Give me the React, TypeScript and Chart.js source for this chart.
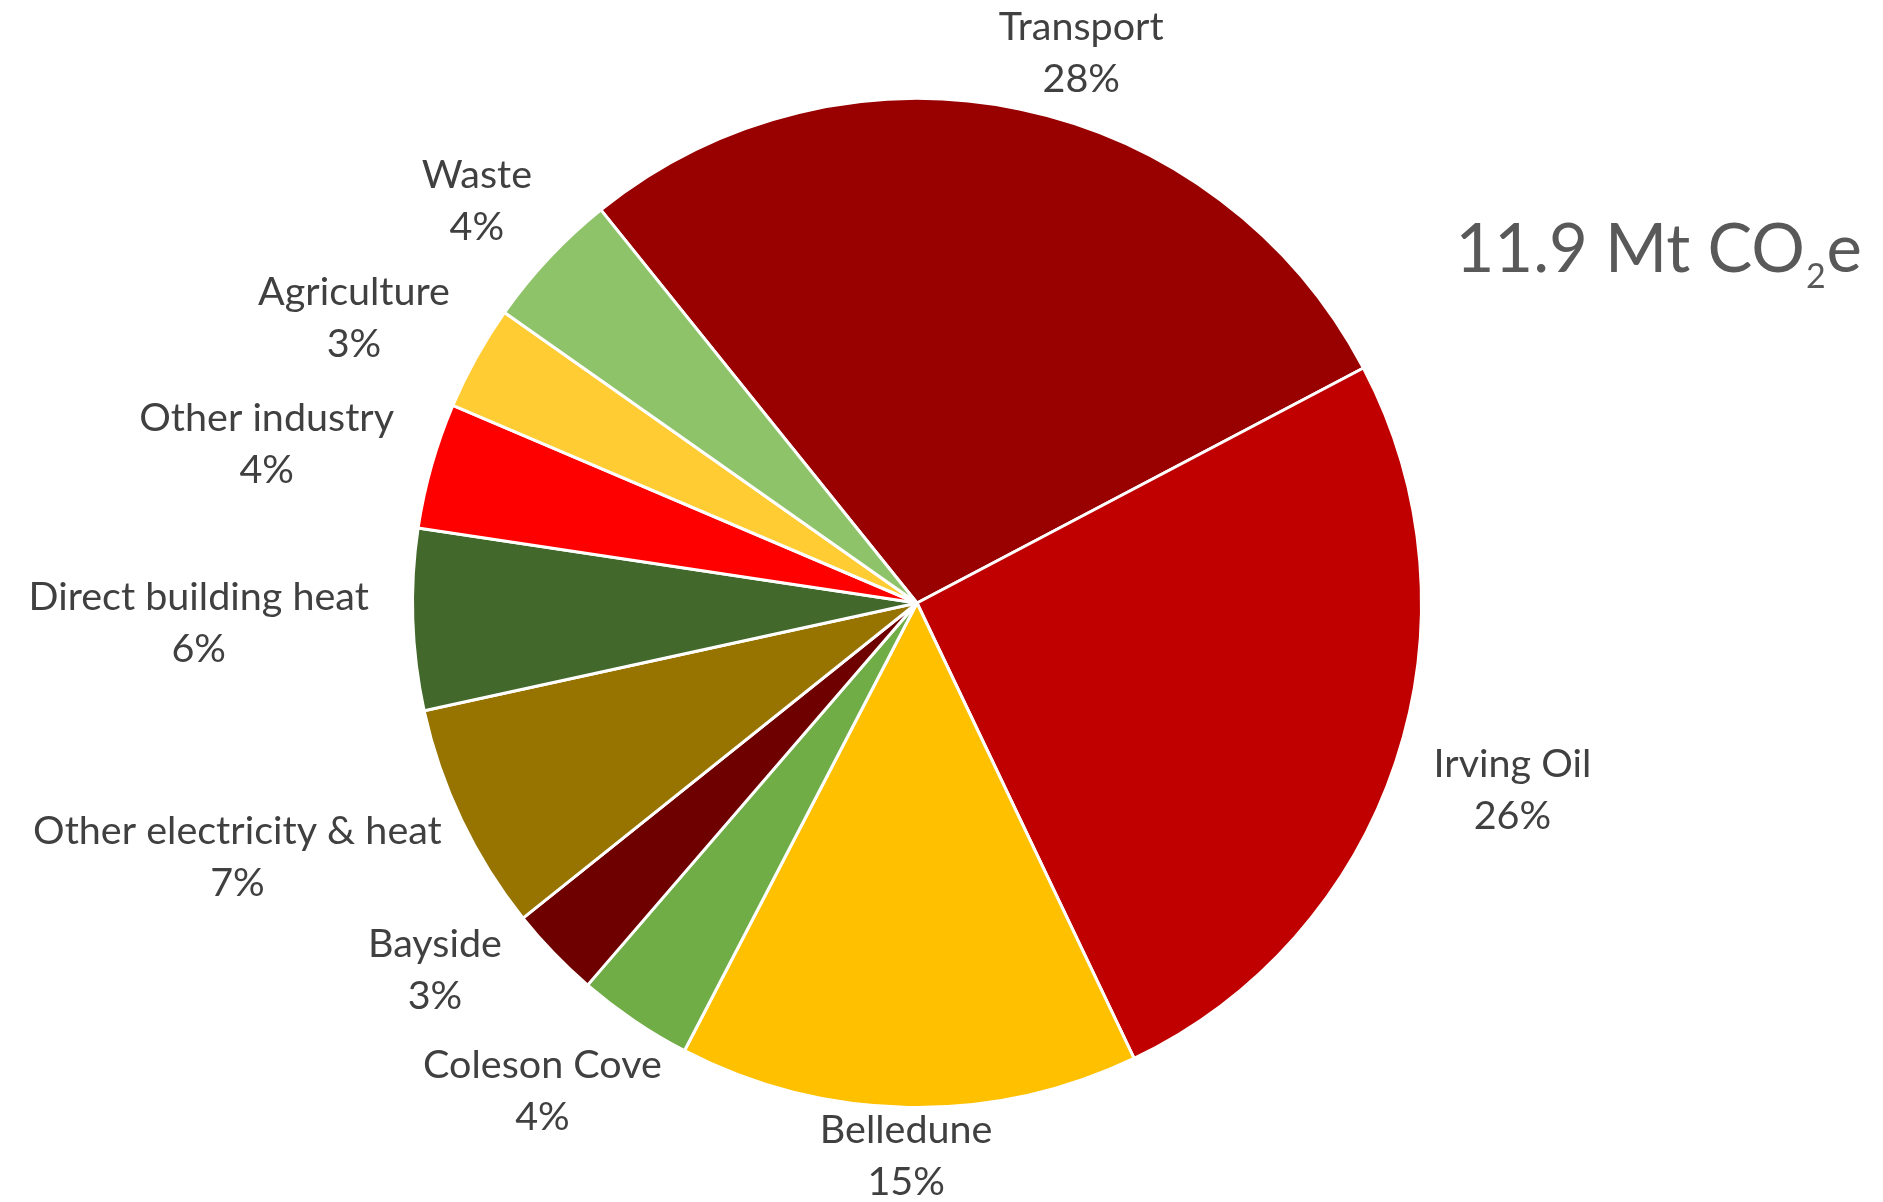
import React, { useEffect, useRef } from 'react';
import { Chart, registerables } from 'chart.js';

Chart.register(...registerables);

// ---- Data ----
const categories = [
  'Transport',
  'Irving Oil',
  'Belledune',
  'Coleson Cove',
  'Bayside',
  'Other electricity & heat',
  'Direct building heat',
  'Other industry',
  'Agriculture',
  'Waste',
];
const emissionsMt = [3.34, 3.05, 1.75, 0.44, 0.35, 0.87, 0.69, 0.48, 0.40, 0.53];
const sliceColors = [
  '#990000',
  '#C00000',
  '#FFC000',
  '#70AD47',
  '#6E0000',
  '#977300',
  '#43682B',
  '#FF0000',
  '#FFCC33',
  '#8EC36A',
];
const unitMain = 'Mt CO';
const unitSub = '2';
const unitTail = 'e';

// ---- Layout / style ----
const W = 1883;
const H = 1202;
const FONT = 'Lato, "Open Sans", sans-serif';
const LABEL_SIZE = 39.5;
const LINE_GAP = 52;
const GAP = 44;
const MIN_GAP = 13;
const OVERLAP_TRIGGER = 20;
const OVERLAP_TARGET = 40;

const labelPlugin = {
  id: 'outsideLabels',
  afterDraw(chart: any) {
    const ctx = chart.ctx as CanvasRenderingContext2D;
    const meta = chart.getDatasetMeta(0);
    const data = chart.data.datasets[0].data as number[];
    const total = data.reduce((a, b) => a + b, 0);
    ctx.save();
    ctx.font = `${LABEL_SIZE}px ${FONT}`;
    ctx.fillStyle = '#404040';
    ctx.textAlign = 'center';
    ctx.textBaseline = 'alphabetic';
    const capH = ctx.measureText('T').actualBoundingBoxAscent;
    const h = LINE_GAP + capH;
    const topMin = 12;
    const botMax = chart.height - 7;

    const place = (x: number, y: number, R: number, w: number, theta: number) => {
      const dx = Math.cos(theta);
      const dy = Math.sin(theta);
      let cx = x + dx * (R + GAP) + (dx * w) / 2;
      let cy = y + dy * (R + GAP) + (dy * h) / 2;
      let clampedV = false;
      if (cy - h / 2 < topMin) {
        cy = topMin + h / 2;
        clampedV = true;
      }
      if (cy + h / 2 > botMax) {
        cy = botMax - h / 2;
        clampedV = true;
      }
      cx = Math.min(Math.max(cx, w / 2 + 4), chart.width - w / 2 - 4);
      if (clampedV) {
        const left = cx - w / 2;
        const right = cx + w / 2;
        if (left > x || right < x) {
          const nearY = cy < y ? cy + h / 2 : cy - h / 2;
          const vy = Math.abs(nearY - y);
          const need = R + MIN_GAP;
          if (vy < need) {
            const needX = Math.sqrt(need * need - vy * vy);
            if (left > x && left - x < needX) cx = x + needX + w / 2;
            if (right < x && x - right < needX) cx = x - needX - w / 2;
          }
        }
      }
      return { cx, cy };
    };

    const boxes: any[] = [];
    meta.data.forEach((arc: any, i: number) => {
      const { x, y, startAngle, endAngle, outerRadius } = arc.getProps(
        ['x', 'y', 'startAngle', 'endAngle', 'outerRadius'],
        true
      );
      const theta = (startAngle + endAngle) / 2;
      const l1 = String(chart.data.labels[i]);
      const l2 = Math.round((data[i] / total) * 100) + '%';
      const w = Math.max(ctx.measureText(l1).width, ctx.measureText(l2).width);
      const p = place(x, y, outerRadius, w, theta);
      boxes.push({ l1, l2, w, x, y, R: outerRadius, theta, cx: p.cx, cy: p.cy });
    });

    const vGap = (A: any, B: any) => {
      const xOverlap =
        Math.min(A.cx + A.w / 2, B.cx + B.w / 2) - Math.max(A.cx - A.w / 2, B.cx - B.w / 2);
      if (xOverlap <= 0) return Infinity;
      return Math.abs(A.cy - B.cy) - h;
    };

    // neighbouring labels that crowd each other: slide the later one clockwise
    for (let j = 1; j < boxes.length; j++) {
      const A = boxes[j - 1];
      const B = boxes[j];
      if (vGap(A, B) < OVERLAP_TRIGGER) {
        for (let step = 0; step < 80 && vGap(A, B) < OVERLAP_TARGET; step++) {
          B.theta += (0.25 * Math.PI) / 180;
          const p = place(B.x, B.y, B.R, B.w, B.theta);
          B.cx = p.cx;
          B.cy = p.cy;
        }
      }
    }

    boxes.forEach((bx) => {
      const b1 = bx.cy - h / 2 + capH;
      ctx.fillText(bx.l1, bx.cx, b1);
      ctx.fillText(bx.l2, bx.cx, b1 + LINE_GAP);
    });

    // Total annotation (top right)
    const tf = 67;
    const sf = 34;
    ctx.fillStyle = '#595959';
    ctx.textAlign = 'left';
    const main = total.toFixed(1) + ' ' + unitMain;
    ctx.font = `${tf}px ${FONT}`;
    const wMain = ctx.measureText(main).width;
    const wTail = ctx.measureText(unitTail).width;
    ctx.font = `${sf}px ${FONT}`;
    const wSub = ctx.measureText(unitSub).width;
    const totalW = wMain + wSub + 2 + wTail;
    const startX = 1862 - totalW;
    const base = 272;
    ctx.font = `${tf}px ${FONT}`;
    ctx.fillText(main, startX, base);
    ctx.font = `${sf}px ${FONT}`;
    ctx.fillText(unitSub, startX + wMain + 1, base + 16);
    ctx.font = `${tf}px ${FONT}`;
    ctx.fillText(unitTail, startX + wMain + wSub + 2, base);
    ctx.restore();
  },
};

export default function App() {
  const canvasRef = useRef<HTMLCanvasElement | null>(null);

  useEffect(() => {
    const canvas = canvasRef.current;
    if (!canvas) return;
    const chart = new Chart(canvas, {
      type: 'pie',
      data: {
        labels: categories,
        datasets: [
          {
            data: emissionsMt,
            backgroundColor: sliceColors,
            borderColor: '#FFFFFF',
            borderWidth: 3,
            hoverOffset: 0,
          },
        ],
      },
      options: {
        responsive: false,
        animation: false,
        rotation: -38.8,
        layout: { padding: { left: 411, right: 460, top: 97, bottom: 93 } },
        plugins: {
          legend: { display: false },
          tooltip: { enabled: false },
          title: { display: false },
        },
        events: [],
      },
      plugins: [labelPlugin],
    });
    return () => chart.destroy();
  }, []);

  return (
    <div style={{ position: 'fixed', left: 0, top: 0, width: W, height: H, background: '#FFFFFF' }}>
      <canvas ref={canvasRef} width={W} height={H} style={{ display: 'block', width: W, height: H }} />
    </div>
  );
}
